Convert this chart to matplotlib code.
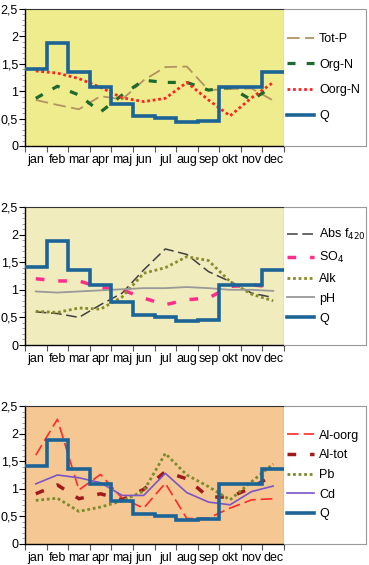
import numpy as np
import matplotlib
matplotlib.use("Agg")
import matplotlib.pyplot as plt
from matplotlib.ticker import MultipleLocator

months = ["jan", "feb", "mar", "apr", "maj", "jun", "jul", "aug", "sep", "okt", "nov", "dec"]
yticklabels = ["0", "0,5", "1", "1,5", "2", "2,5"]

Q = [1.41, 1.88, 1.35, 1.08, 0.77, 0.55, 0.51, 0.44, 0.46, 1.08, 1.08, 1.35]

tot_p = [0.84, 0.75, 0.67, 0.91, 0.85, 1.20, 1.44, 1.45, 1.02, 1.04, 1.05, 0.83]
org_n = [0.87, 1.09, 0.93, 0.62, 0.93, 1.20, 1.16, 1.16, 1.02, 1.07, 0.84, 1.09]
oorg_n = [1.37, 1.33, 1.23, 1.07, 0.88, 0.81, 0.87, 1.16, 0.84, 0.55, 0.88, 1.16]

abs_f420 = [0.60, 0.57, 0.50, 0.73, 0.94, 1.36, 1.74, 1.64, 1.33, 1.15, 0.94, 0.86]
so4 = [1.20, 1.16, 1.16, 1.04, 1.00, 0.85, 0.73, 0.82, 0.85, 1.06, 1.09, 1.05]
alk = [0.61, 0.59, 0.67, 0.65, 0.87, 1.30, 1.40, 1.60, 1.53, 1.15, 0.92, 0.80]
ph = [0.97, 0.95, 0.97, 0.99, 1.01, 1.03, 1.03, 1.05, 1.03, 1.00, 1.00, 0.98]

al_oorg = [1.61, 2.26, 0.98, 1.26, 0.83, 0.65, 1.10, 0.46, 0.47, 0.65, 0.80, 0.82]
al_tot = [0.91, 1.07, 0.82, 0.91, 0.80, 0.99, 1.31, 1.18, 0.85, 0.85, 1.02, 1.25]
pb = [0.79, 0.83, 0.59, 0.67, 0.78, 0.96, 1.64, 1.25, 1.04, 0.80, 1.13, 1.45]
cd = [1.09, 1.25, 1.20, 1.11, 0.88, 0.88, 1.28, 0.93, 0.76, 0.71, 0.95, 1.05]

W, H = 369, 565
fig = plt.figure(figsize=(W / 100, H / 100), dpi=100)
plt.rcParams['font.family'] = ['Liberation Sans', 'DejaVu Sans']
FS = 9

Q_COLOR = "#1d6496"
xc = np.arange(12) + 0.5
edges = np.arange(13)


def make_panel(top_px, bottom_px, bg, series, label_spacing):
    left, right = 25, 284
    ax = fig.add_axes([left / W, 1 - bottom_px / H, (right - left) / W, (bottom_px - top_px) / H])
    ax.set_facecolor(bg)
    ax.set_xlim(0, 12)
    ax.set_ylim(0, 2.5)
    ax.set_xticks(edges)
    ax.set_xticklabels([])
    ax.set_xticks(xc, minor=True)
    ax.set_xticklabels(months, minor=True, fontsize=FS)
    ax.tick_params(axis='x', which='major', length=4, direction='out', width=0.8, color="#555555")
    ax.tick_params(axis='x', which='minor', length=0, pad=6)
    ax.set_yticks(np.arange(6) * 0.5)
    ax.set_yticklabels(yticklabels, fontsize=FS)
    ax.yaxis.set_minor_locator(MultipleLocator(0.1))
    ax.tick_params(axis='y', which='major', length=4, width=0.8, pad=1)
    ax.tick_params(axis='y', which='minor', length=2, width=0.5, color="#777777")
    for s in ['left', 'bottom']:
        ax.spines[s].set_linewidth(1.0)
    for s in ['top', 'right']:
        ax.spines[s].set_color("#333333")
        ax.spines[s].set_linewidth(0.8)

    handles = []
    for vals, label, kw in series:
        h, = ax.plot(xc, vals, label=label, **kw)
        handles.append(h)
    ax.stairs(Q, edges, baseline=None, color=Q_COLOR, linewidth=2.6, zorder=5)
    qh, = ax.plot([], [], color=Q_COLOR, linewidth=2.6, label="Q")
    handles.append(qh)

    lax = fig.add_axes([right / W, 1 - bottom_px / H, (366 - right) / W, (bottom_px - top_px) / H])
    lax.set_xticks([])
    lax.set_yticks([])
    lax.set_facecolor("white")
    for s in ['top', 'right', 'bottom']:
        lax.spines[s].set_color("#999999")
        lax.spines[s].set_linestyle((0, (1, 1)))
        lax.spines[s].set_linewidth(0.8)
    lax.spines['left'].set_visible(False)
    lax.legend(handles=handles, loc='center left', bbox_to_anchor=(0.0, 0.5),
               frameon=False, fontsize=FS, handlelength=2.2, handletextpad=0.4,
               labelspacing=label_spacing, borderaxespad=0, borderpad=0.2)
    return ax


make_panel(9, 146, "#efec8e", [
    (tot_p, "Tot-P", dict(color="#b39262", lw=1.3, dashes=(7, 3))),
    (org_n, "Org-N", dict(color="#1c6a2c", lw=2.3, dashes=(2.5, 3.5))),
    (oorg_n, "Oorg-N", dict(color="#ff2222", lw=2.0, dashes=(1, 1))),
], 1.1)

make_panel(207, 345, "#f1ecbd", [
    (abs_f420, "Abs f$_{420}$", dict(color="#404040", lw=1.1, dashes=(7, 3))),
    (so4, "SO$_4$", dict(color="#ff2e8c", lw=2.5, dashes=(2.5, 4))),
    (alk, "Alk", dict(color="#8a8a2c", lw=2.0, dashes=(1, 1))),
    (ph, "pH", dict(color="#999999", lw=1.3)),
], 0.62)

make_panel(406, 544, "#f5c792", [
    (al_oorg, "Al-oorg", dict(color="#ff2a2a", lw=1.2, dashes=(7, 3))),
    (al_tot, "Al-tot", dict(color="#a01a1a", lw=2.5, dashes=(2.5, 4))),
    (pb, "Pb", dict(color="#7c8a2c", lw=2.0, dashes=(1, 1))),
    (cd, "Cd", dict(color="#7b55c6", lw=1.2)),
], 0.62)

fig.savefig("out.png", dpi=100)
